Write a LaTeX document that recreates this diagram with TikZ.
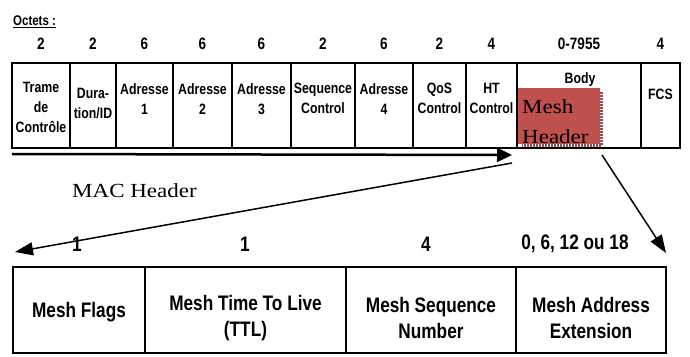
\documentclass[tikz,border=0pt]{standalone}
\usepackage{fontspec}
\usetikzlibrary{arrows.meta}
\newfontfamily\narrowfont[FakeStretch=0.82]{Liberation Sans}
\newfontfamily\bookfont[FakeStretch=1.15]{Liberation Serif}
\definecolor{meshred}{RGB}{192,80,77}
\definecolor{meshshadow}{RGB}{140,80,80}
\begin{document}
\begin{tikzpicture}[x=1pt,y=-1pt,
  num/.style={font=\narrowfont\bfseries\fontsize{16.5}{20}\selectfont, inner sep=0},
  cellt/.style={font=\narrowfont\bfseries\fontsize{15}{20}\selectfont, align=center, inner sep=0, anchor=north},
  bnum/.style={font=\narrowfont\bfseries\fontsize{21}{26}\selectfont, inner sep=0},
  bcell/.style={font=\narrowfont\bfseries\fontsize{21}{26}\selectfont, align=center, inner sep=0},
  serif/.style={font=\bookfont\fontsize{20}{24}\selectfont, inner sep=0},
  tbl/.style={line width=2pt},
  btbl/.style={line width=2.6pt},
  bigarrow/.style={line width=2.5pt, -{Triangle[length=15pt,width=14pt]}},
  thinarrow/.style={line width=1.5pt, -{Triangle[length=18pt,width=13pt]}}]
\useasboundingbox (0,0) rectangle (690,356);

% Octets label
\node[anchor=base west, inner sep=0, font=\narrowfont\bfseries\fontsize{14}{16}\selectfont] (oct) at (13,25.5) {\underline{Octets :}};

% top numbers
\foreach \x/\v [count=\i] in {41/2, 93/2, 144.5/6, 202.5/6, 261.5/6, 323/2, 384/6, 439.5/2, 491.5/4, 579/0-7955, 660.5/4}
  \node[num] (n\i) at (\x,44) {\v};

% top table
\draw[tbl] (12,63) rectangle (680,148);
\foreach \x in {70,116,173,232,291,355,413,466,517,641}
  \draw[tbl] (\x,63) -- (\x,148);

\node[cellt] (c1) at (41,82) {Trame\\de\\Contrôle};
\node[cellt] (c2) at (93,88) {Dura-\\tion/ID};
\node[cellt] (c3) at (144.5,83) {Adresse\\1};
\node[cellt] (c4) at (202.5,83) {Adresse\\2};
\node[cellt] (c5) at (261.5,83) {Adresse\\3};
\node[cellt] (c6) at (323,83) {Sequence\\Control};
\node[cellt] (c7) at (384,83) {Adresse\\4};
\node[cellt] (c8) at (439.5,83) {QoS\\Control};
\node[cellt] (c9) at (491.5,83) {HT\\Control};
\node[cellt] (c10) at (580,72) {Body};
\node[cellt] (c11) at (660.5,89) {FCS};

% mesh header box
\draw[meshshadow, line width=2.2pt, dash pattern=on 2pt off 1pt] (601.5,92) -- (601.5,145.5) -- (522,145.5);
\node[fill=meshred, inner sep=0, minimum width=82pt, minimum height=56pt, anchor=north west] (mh) at (518,88) {};
\begin{scope}
  \clip (518,88) rectangle (600,144.5);
  \node[serif, anchor=base west] (mh1) at (522,113) {Mesh};
  \node[serif, anchor=base west] (mh2) at (522,143) {Header};
\end{scope}

% MAC header arrow
\coordinate (macL) at (12,154);
\coordinate (macR) at (512,155);
\draw[bigarrow] (macL) -- (macR);
\node[serif, anchor=base] (mac) at (134.5,197) {MAC Header};

% connectors to the mesh header detail
\coordinate (a2s) at (512,163);
\coordinate (a2e) at (15,252);
\draw[thinarrow] (a2s) -- (a2e);
\coordinate (a3s) at (602,155);
\coordinate (a3e) at (666,253);
\draw[thinarrow] (a3s) -- (a3e);

% bottom numbers
\node[bnum] (b1) at (77,244) {1};
\node[bnum] (b2) at (245,244) {1};
\node[bnum] (b3) at (426,244) {4};
\node[bnum] (b4) at (575,244) {0, 6, 12 ou 18};

% bottom table
\draw[btbl] (13,267) rectangle (666,353);
\foreach \x in {145,346,516}
  \draw[btbl] (\x,267) -- (\x,353);

\node[bcell] (m1) at (79,312) {Mesh Flags};
\node[bcell] (m2) at (245.5,318) {Mesh Time To Live\\(TTL)};
\node[bcell] (m3) at (431,318) {Mesh Sequence\\Number};
\node[bcell] (m4) at (591,318) {Mesh Address\\Extension};
\end{tikzpicture}
\end{document}
